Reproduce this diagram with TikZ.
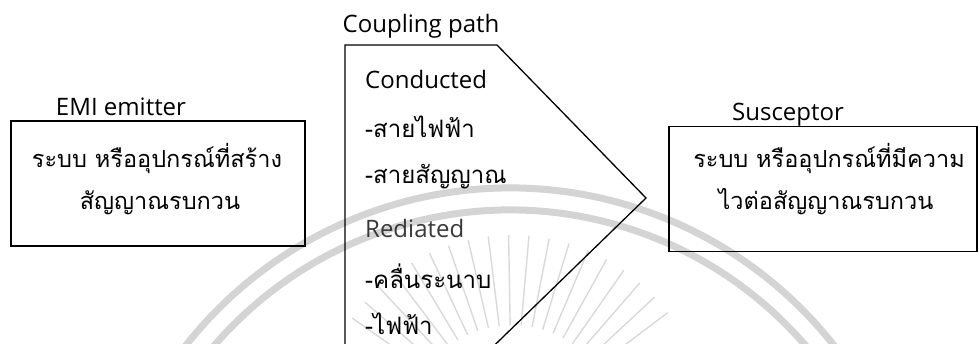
\documentclass[tikz,border=0pt]{standalone}
\usepackage{fontspec}
\usetikzlibrary{calc}
\setmainfont{Open Sans}
\newfontfamily\thai[Script=Thai]{Loma}
\tikzset{
  edge/.style={line width=1.3pt, black, line join=miter},
  boxed/.style={draw, line width=1.3pt, inner sep=0pt},
  lbl/.style={inner sep=0pt, anchor=base, font=\fontsize{24}{28}\selectfont},
  thl/.style={inner sep=0pt, anchor=base, font=\thai\fontsize{23.5}{28}\selectfont},
  cline/.style={inner sep=0pt, anchor=base west, font=\thai\fontsize{24}{28}\selectfont},
  wm/.style={black!17, line width=7pt},
  ray/.style={black!15, line width=1.4pt}
}
\begin{document}
\begin{tikzpicture}[x=1pt,y=-1pt]
\useasboundingbox (0,0) rectangle (978,343);
\clip (0,0) rectangle (978,343);
% faint watermark
\coordinate (wc) at (510,600);
\draw[wm] (wc) ++(200:412) arc[start angle=200, end angle=340, radius=412];
\draw[wm] (wc) ++(200:390) arc[start angle=200, end angle=340, radius=390];
\coordinate (rc) at (512,430);
\foreach \a in {35,41,...,145} {
  \draw[ray] ($(rc)+(\a:-105)$) -- ($(rc)+(\a:-195)$);
}
% emitter
\node[lbl] (emilbl) at (121,115) {EMI emitter};
\node[boxed, minimum width=294pt, minimum height=125pt] (emit) at (158,183.5) {};
\node[thl] (emit1) at (157,167) {ระบบ หรืออุปกรณ์ที่สร้าง};
\node[thl] (emit2) at (160,209) {สัญญาณรบกวน};
% susceptor
\node[lbl] (suslbl) at (788,120) {Susceptor};
\node[boxed, minimum width=308pt, minimum height=125pt] (sus) at (823,189) {};
\node[thl] (sus1) at (829,167) {ระบบ หรืออุปกรณ์ที่มีความ};
\node[thl] (sus2) at (826,209) {ไวต่อสัญญาณรบกวน};
% coupling path
\node[lbl] (cplbl) at (421,32) {Coupling path};
\coordinate (ctl) at (345,45);
\coordinate (ctr) at (497,45);
\coordinate (cap) at (646,198);
\coordinate (cbr) at (489.6,350);
\coordinate (cbl) at (345,350);
\draw[edge] (cbl) -- (ctl) -- (ctr) -- (cap) -- (cbr);
\node[cline, font=\fontsize{24}{28}\selectfont] (c1) at (365,88) {Conducted};
\node[cline] (c2) at (365,137) {-สายไฟฟ้า};
\node[cline] (c3) at (365,183) {-สายสัญญาณ};
\node[cline, font=\fontsize{24}{28}\selectfont, text=black!78] (c4) at (365,237) {Rediated};
\node[cline] (c5) at (365,288) {-คลื่นระนาบ};
\node[cline] (c6) at (365,334) {-ไฟฟ้า};
\end{tikzpicture}
\end{document}
